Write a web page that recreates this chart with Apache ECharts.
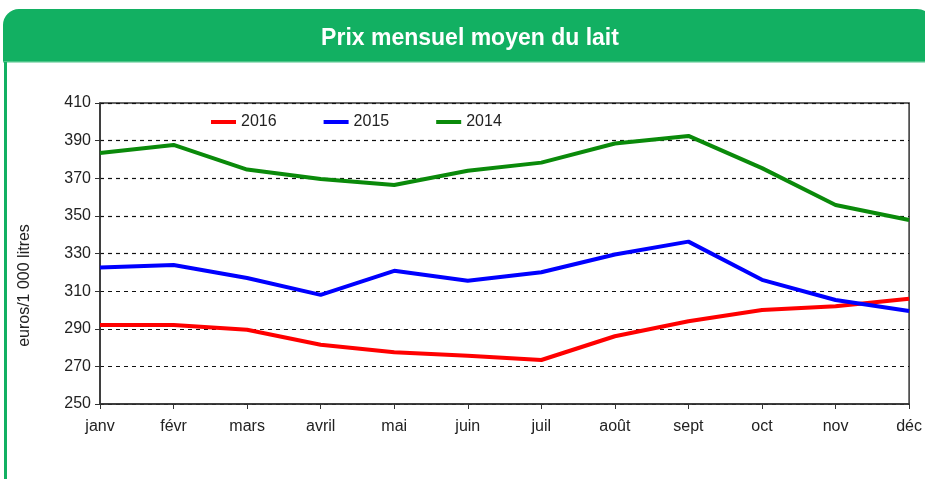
<!DOCTYPE html>
<html>
<head>
<meta charset="utf-8">
<script src="https://cdn.jsdelivr.net/npm/echarts@6/dist/echarts.min.js"></script>
<style>
  html, body { margin: 0; padding: 0; background: #fff; }
  #chart { width: 925px; height: 479px; }
</style>
</head>
<body>
<div id="chart"></div>
<script>
// données (euros / 1 000 litres)
const months = ['janv', 'févr', 'mars', 'avril', 'mai', 'juin', 'juil', 'août', 'sept', 'oct', 'nov', 'déc']
const prix2016 = [292, 292, 289.5, 281.5, 277.5, 275.7, 273.4, 286, 294, 300, 302, 306]
const prix2015 = [322.5, 323.9, 317, 308, 320.8, 315.5, 320, 329.5, 336.3, 316, 305.3, 299.4]
const prix2014 = [383.4, 387.7, 374.6, 369.6, 366.4, 374, 378.3, 388.5, 392.5, 375.4, 355.8, 347.8]
const legendNames = ['2016', '2015', '2014']

const headerGreen = '#12b062'
const font = 'Liberation Sans, Arial, sans-serif'

const chart = echarts.init(document.getElementById('chart'))

const option = {
  animation: false,
  graphic: [
    {
      type: 'rect',
      shape: { x: 3, y: 9, width: 930, height: 53, r: [16, 16, 0, 0] },
      style: { fill: headerGreen }
    },
    {
      type: 'rect',
      shape: { x: 3, y: 61, width: 930, height: 1.5 },
      style: { fill: '#4cc488' }
    },
    {
      type: 'rect',
      shape: { x: 4, y: 62, width: 3, height: 420 },
      style: { fill: headerGreen }
    }
  ],
  title: {
    text: 'Prix mensuel moyen du lait',
    left: 465,
    textAlign: 'center',
    top: 22,
    textStyle: { color: '#fff', fontSize: 23, fontWeight: 'bold', fontFamily: font }
  },
  legend: {
    data: legendNames,
    left: 206,
    top: 109,
    icon: 'rect',
    itemWidth: 25,
    itemHeight: 4,
    itemGap: 47,
    textStyle: { fontSize: 16, color: '#222', fontFamily: font }
  },
  grid: {
    left: 100,
    right: 13,
    top: 103,
    bottom: 75,
    show: true,
    borderColor: '#333',
    borderWidth: 1.5
  },
  xAxis: {
    type: 'category',
    data: months,
    boundaryGap: false,
    axisLine: { lineStyle: { color: '#333', width: 1.5 } },
    axisTick: { show: true, length: 5, lineStyle: { color: '#333' } },
    axisLabel: { color: '#222', fontSize: 16, fontFamily: font, margin: 15 },
    splitLine: { show: false }
  },
  yAxis: {
    type: 'value',
    min: 250,
    max: 410,
    interval: 20,
    name: 'euros/1 000 litres',
    nameLocation: 'middle',
    nameRotate: 90,
    nameGap: 67,
    nameTextStyle: { color: '#222', fontSize: 16, fontFamily: font, padding: [0, 64, 0, 0] },
    axisLine: { show: true, lineStyle: { color: '#333', width: 1.5 } },
    axisTick: { show: true, length: 5, lineStyle: { color: '#333' } },
    axisLabel: { color: '#222', fontSize: 16, fontFamily: font, margin: 9 },
    splitLine: { lineStyle: { color: '#111', type: [4, 4], width: 1.2 } }
  },
  series: [
    {
      name: '2016',
      type: 'line',
      data: prix2016,
      symbol: 'none',
      lineStyle: { color: '#ff0000', width: 4 },
      itemStyle: { color: '#ff0000' }
    },
    {
      name: '2015',
      type: 'line',
      data: prix2015,
      symbol: 'none',
      lineStyle: { color: '#0000ff', width: 4 },
      itemStyle: { color: '#0000ff' }
    },
    {
      name: '2014',
      type: 'line',
      data: prix2014,
      symbol: 'none',
      lineStyle: { color: '#0a8a0a', width: 4 },
      itemStyle: { color: '#0a8a0a' }
    }
  ]
}

chart.setOption(option)
</script>
</body>
</html>
